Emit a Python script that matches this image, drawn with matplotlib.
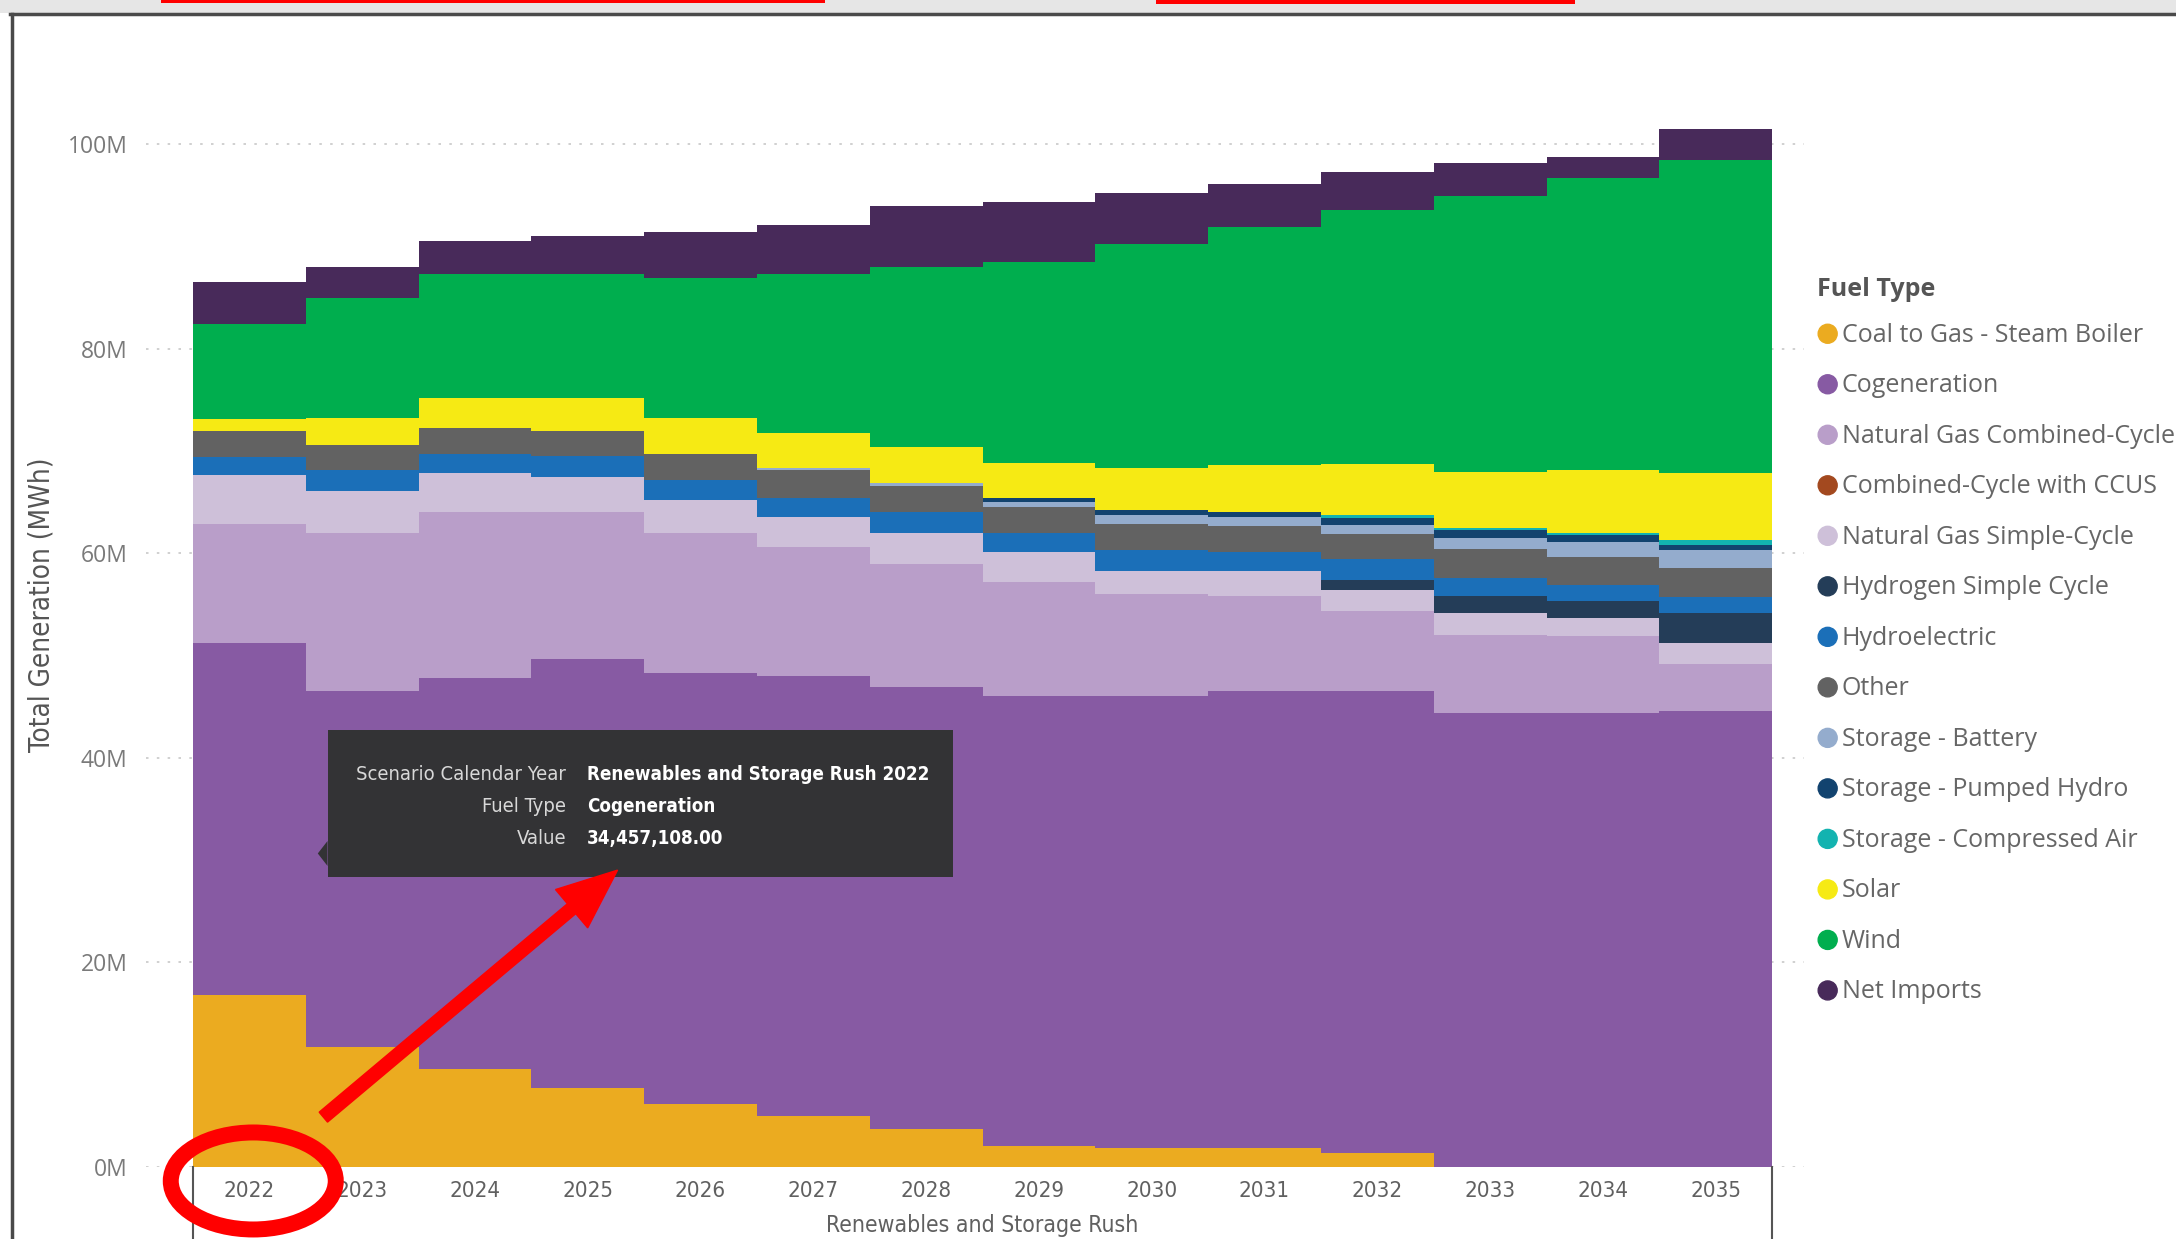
import numpy as np
import matplotlib
matplotlib.use("Agg")
from matplotlib import pyplot as plt
from matplotlib import patches, transforms
from matplotlib.ticker import FuncFormatter, MultipleLocator

years = [2022, 2023, 2024, 2025, 2026, 2027, 2028, 2029, 2030, 2031, 2032, 2033, 2034, 2035]

# generation by fuel type, millions of MWh
coal = [16.8, 11.7, 9.6, 7.7, 6.1, 5.0, 3.7, 2.0, 1.8, 1.8, 1.4, 0, 0, 0]
cogen = [34.457108, 34.8, 38.2, 42.0, 42.2, 43.0, 43.2, 44.0, 44.2, 44.7, 45.1, 44.4, 44.4, 44.6]
ngcc = [11.6, 15.5, 16.2, 14.3, 13.7, 12.6, 12.1, 11.2, 10.0, 9.3, 7.9, 7.6, 7.5, 4.6]
ccus = [0, 0, 0, 0, 0, 0, 0, 0, 0, 0, 0, 0, 0, 0]
ngsc = [4.8, 4.1, 3.9, 3.5, 3.2, 3.0, 3.0, 2.95, 2.3, 2.5, 2.0, 2.2, 1.8, 2.0]
hsc = [0, 0, 0, 0, 0, 0, 0, 0, 0, 0, 1.0, 1.6, 1.6, 3.0]
hydro = [1.8, 2.0, 1.8, 2.0, 2.0, 1.8, 2.0, 1.85, 2.0, 1.85, 2.0, 1.8, 1.6, 1.55]
other = [2.5, 2.5, 2.6, 2.5, 2.5, 2.7, 2.6, 2.5, 2.55, 2.5, 2.5, 2.8, 2.7, 2.8]
battery = [0, 0, 0, 0, 0, 0.2, 0.3, 0.5, 0.9, 0.95, 0.9, 1.1, 1.5, 1.8]
pumped = [0, 0, 0, 0, 0, 0, 0, 0.4, 0.45, 0.4, 0.7, 0.75, 0.7, 0.5]
compressed = [0, 0, 0, 0, 0, 0, 0, 0, 0, 0, 0.2, 0.2, 0.2, 0.45]
solar = [1.2, 2.6, 2.9, 3.2, 3.5, 3.5, 3.5, 3.4, 4.15, 4.6, 5.0, 5.5, 6.1, 6.6]
wind = [9.3, 11.8, 12.1, 12.1, 13.7, 15.5, 17.6, 19.7, 21.9, 23.3, 24.9, 27.0, 28.6, 30.6]
imports = [4.1, 3.0, 3.2, 3.7, 4.5, 4.8, 6.0, 5.9, 5.0, 4.2, 3.7, 3.2, 2.1, 3.0]

fuel_names = ["Coal to Gas - Steam Boiler", "Cogeneration", "Natural Gas Combined-Cycle",
              "Combined-Cycle with CCUS", "Natural Gas Simple-Cycle", "Hydrogen Simple Cycle",
              "Hydroelectric", "Other", "Storage - Battery", "Storage - Pumped Hydro",
              "Storage - Compressed Air", "Solar", "Wind", "Net Imports"]
series = [coal, cogen, ngcc, ccus, ngsc, hsc, hydro, other, battery, pumped,
          compressed, solar, wind, imports]
colors = ["#EBAB20", "#875AA3", "#B99EC9", "#A3491F", "#CEC0D9", "#243D58",
          "#1B6FB8", "#626262", "#94ACCD", "#12436F", "#13B3B0", "#F6EA14",
          "#00AE4E", "#482A5A"]

narrow = dict(family=["DejaVu Sans"], stretch="condensed")
plain = ["Open Sans", "DejaVu Sans"]

W, H = 2176, 1239
fig = plt.figure(figsize=(W / 100, H / 100), dpi=100)
# pixel coordinates, origin top-left
px = transforms.Affine2D().scale(1 / W, -1 / H).translate(0, 1) + fig.transFigure
s = W / 1568

ax = fig.add_axes([105 / 1568, 52 / 893, (1300 - 105) / 1568, (841 - 60) / 893])
x = np.arange(len(years))
bottom = np.zeros(len(years))
for vals, col in zip(series, colors):
    ax.bar(x, vals, width=1.0, bottom=bottom, color=col, linewidth=0, zorder=2)
    bottom += np.array(vals)

ax.set_xlim(-0.5 - 34 / 81.3, 13.5 + 23 / 81.3)
ax.set_ylim(0, (841 - 60) / 7.37)
ax.yaxis.set_major_locator(MultipleLocator(20))
ax.yaxis.set_major_formatter(FuncFormatter(lambda v, p: f"{v:.0f}M"))
ax.grid(axis="y", color="#c8c8c8", linestyle=(0, (1.5, 5)), linewidth=1.2, zorder=0)
for sp in ax.spines.values():
    sp.set_visible(False)
ax.tick_params(axis="y", length=0, pad=13, labelsize=16.5, labelcolor="#7a7a7a")
for t in ax.get_yticklabels():
    t.set_family(plain)
ax.set_xticks(x)
ax.set_xticklabels([str(y) for y in years], fontsize=16, color="#606060", **narrow)
ax.tick_params(axis="x", length=0, pad=10)

fig.text(30 / 1568, 1 - 436 / 893, "Total Generation (MWh)", rotation=90, ha="center",
         va="center", fontsize=20, color="#555555", **narrow)
fig.text(708 / 1568, 1 - 883 / 893, "Renewables and Storage Rush", ha="center",
         va="center", fontsize=16.5, color="#606060", **narrow)

# category separators under the axis
for xs in (139, 1277):
    fig.add_artist(plt.Line2D([xs * s, xs * s], [841 * s, H], transform=px,
                              color="#555555", lw=1.5))

# legend
fig.text(1309 / 1568, 1 - 209 / 893, "Fuel Type", fontsize=18, fontweight="bold",
         color="#555555", va="center", family=plain)
for i, (name, col) in enumerate(zip(fuel_names, colors)):
    yy = 240.5 + i * 36.4
    fig.add_artist(patches.Circle((1317 * s, yy * s), 9.5, transform=px, color=col))
    fig.text(1327 / 1568, 1 - (yy + 1) / 893, name, fontsize=18, color="#666666",
             va="center", family=plain)

# tooltip
fig.add_artist(patches.Rectangle((236 * s, 526 * s), 451 * s, 106 * s, transform=px,
                                 facecolor="#333335", edgecolor="none", zorder=5))
fig.add_artist(patches.Polygon([(236 * s, 606 * s), (229 * s, 615 * s), (236 * s, 624 * s)],
                               transform=px, facecolor="#333335", edgecolor="none", zorder=5))
tip_rows = [("Scenario Calendar Year", f"Renewables and Storage Rush {years[0]}"),
            ("Fuel Type", fuel_names[1]),
            ("Value", f"{cogen[0] * 1e6:,.2f}")]
for i, (k, v) in enumerate(tip_rows):
    yy = 1 - (558 + i * 23) / 893
    fig.text(408 / 1568, yy, k, ha="right", va="center", fontsize=14.5,
             color="#d8d8d8", zorder=6, **narrow)
    fig.text(423 / 1568, yy, v, ha="left", va="center", fontsize=13.5,
             color="#ffffff", fontweight="bold", zorder=6, **narrow)

# red markup
fig.add_artist(patches.FancyArrow(233 * s, 805 * s, (445 - 233) * s, (627 - 805) * s,
                                  width=13, head_width=50, head_length=60,
                                  length_includes_head=True, color="#ff0000",
                                  transform=px, zorder=7))
fig.add_artist(patches.Ellipse((182.5 * s, 851 * s), 165, 97, transform=px,
                               fill=False, edgecolor="#ff0000", linewidth=11.5, zorder=7))

# window frame
fig.add_artist(patches.Rectangle((0, 0), W, 13, transform=px, facecolor="#e6e6e6",
                                 edgecolor="none"))
fig.add_artist(patches.Rectangle((161, 0), 664, 3, transform=px, facecolor="#ff0000",
                                 edgecolor="none"))
fig.add_artist(patches.Rectangle((1156, 0), 419, 4, transform=px, facecolor="#ff0000",
                                 edgecolor="none"))
fig.add_artist(plt.Line2D([10, W], [14, 14], transform=px, color="#4a4a4a", lw=2.5))
fig.add_artist(plt.Line2D([12, 12], [14, H], transform=px, color="#4a4a4a", lw=2.5))

fig.savefig("out.png", dpi=100)
